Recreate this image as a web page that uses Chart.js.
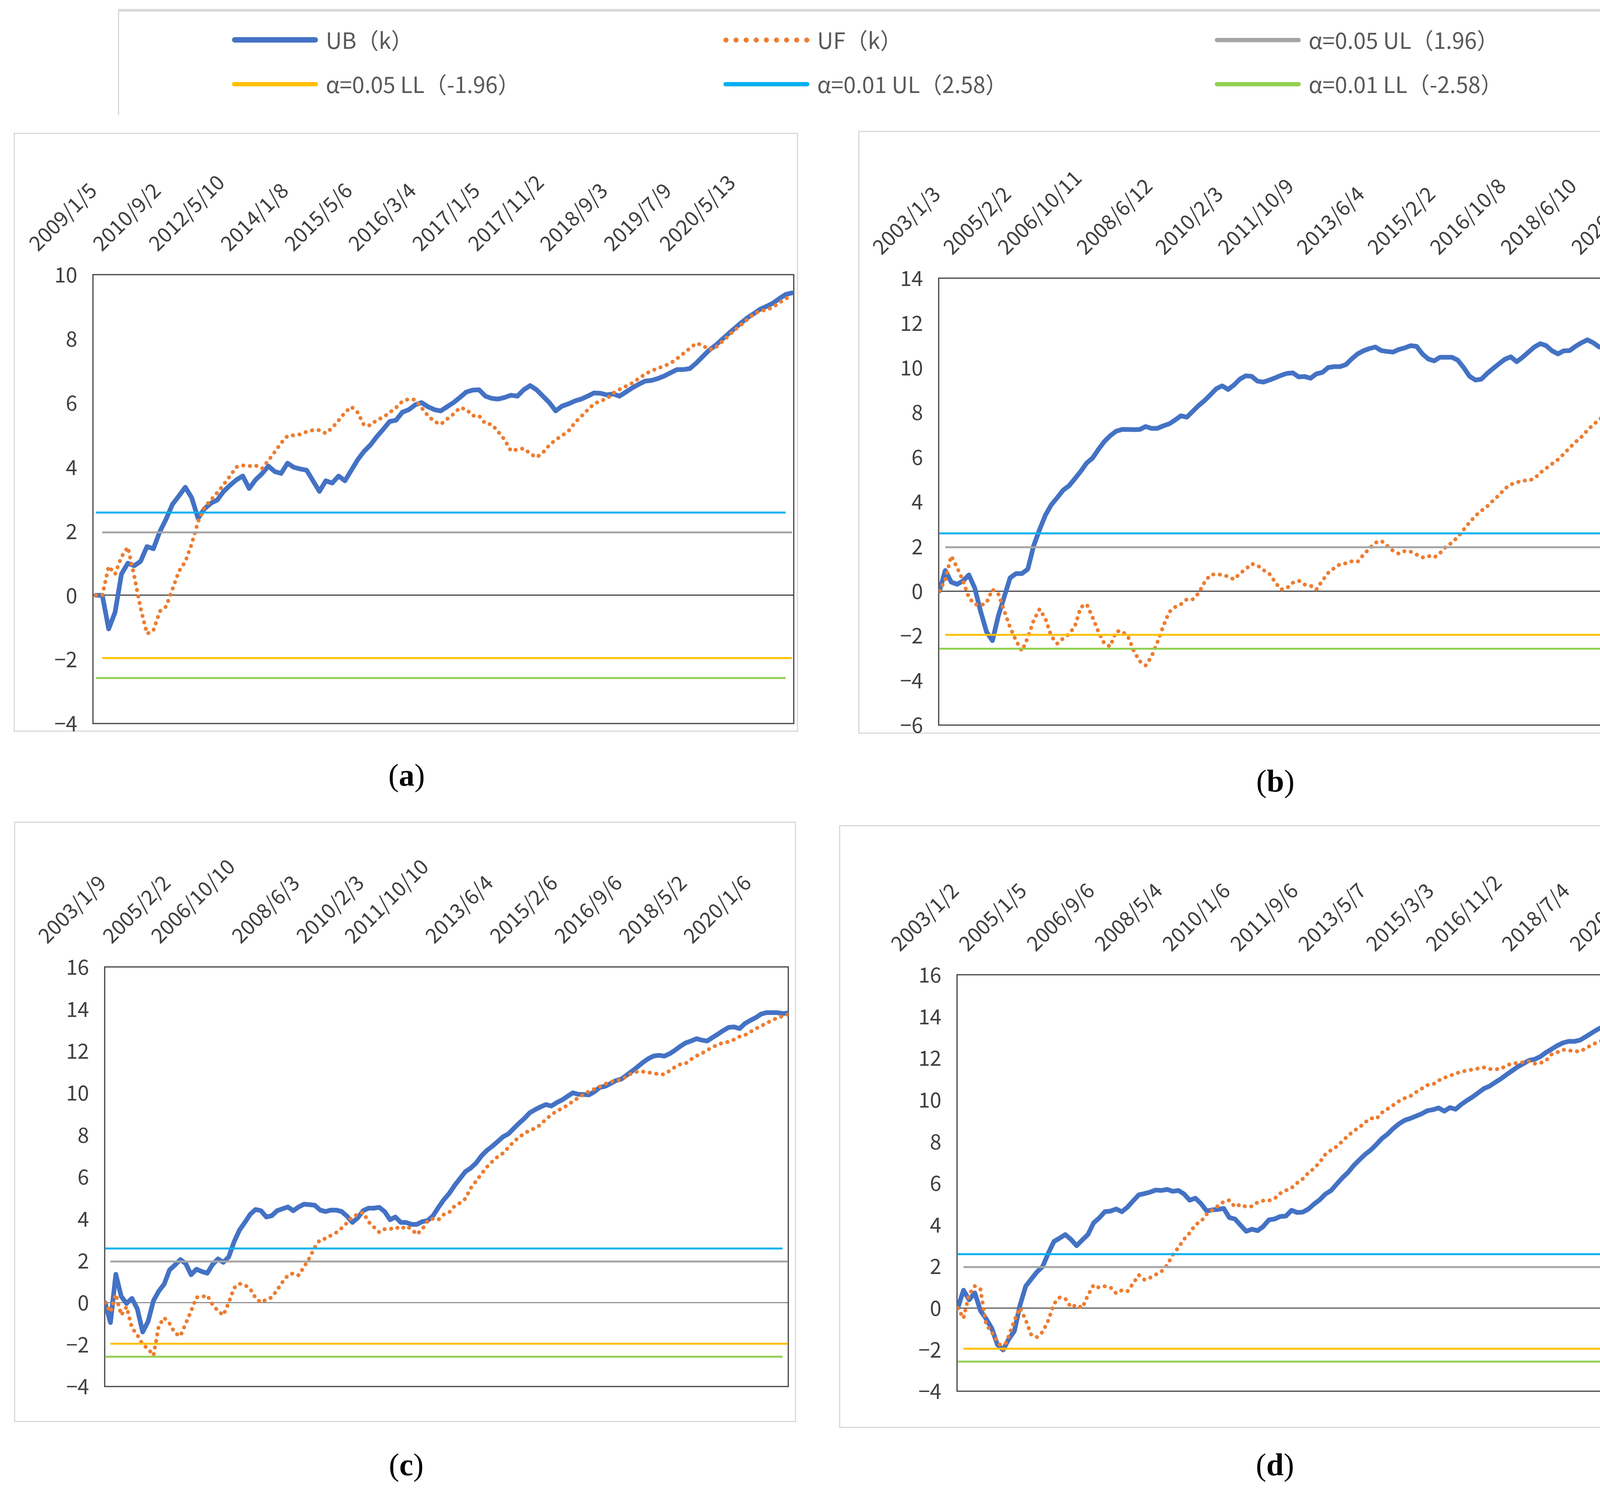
<!DOCTYPE html>
<html><head><meta charset="utf-8">
<script src="https://cdn.jsdelivr.net/npm/chart.js@4.4.1/dist/chart.umd.min.js"></script>
<style>
html,body{margin:0;padding:0;background:#fff;}
#page{position:relative;width:4433px;height:3819px;overflow:hidden;background:#fff;}
.box{position:absolute;border:3px solid #d9d9d9;box-sizing:border-box;}
.cv{position:absolute;}
.cap{position:absolute;width:300px;text-align:center;font-family:"Liberation Serif","DejaVu Serif",serif;font-size:80px;line-height:80px;color:#000;white-space:nowrap;}
.lg-line{position:absolute;height:12px;border-radius:6px;}
.lg-dot{position:absolute;height:0;border-top:13px dotted #ED7D31;}
.lg-text{position:absolute;font-family:"Noto Sans CJK JP";font-size:57px;line-height:80px;height:80px;color:#595959;white-space:nowrap;}
#legendBox{position:absolute;left:302px;top:23px;width:3826px;height:272px;border-top:7px solid #d9d9d9;border-left:3px solid #d9d9d9;border-right:3px solid #d9d9d9;box-sizing:border-box;}
</style></head>
<body><div id="page"><div id="legendBox"></div></div>
<script>
// ---------------- DATA ----------------
const seriesNames = ['UB（k）', 'UF（k）'];
const thresholdNames = ['α=0.05 UL（1.96）', 'α=0.05 LL（-1.96）', 'α=0.01 UL（2.58）', 'α=0.01 LL（-2.58）'];
const thresholdValues = [1.96, -1.96, 2.58, -2.58];

const ticksA = ['2009/1/5','2010/9/2','2012/5/10','2014/1/8','2015/5/6','2016/3/4','2017/1/5','2017/11/2','2018/9/3','2019/7/9','2020/5/13'];
const ubA = [0,0,-1.05,-0.53,0.66,1.0,0.92,1.06,1.52,1.45,
 1.98,2.38,2.84,3.1,3.37,3.04,2.4,2.7,2.87,2.97,
 3.24,3.43,3.6,3.72,3.33,3.6,3.79,4.03,3.86,3.8,
 4.12,3.99,3.94,3.9,3.57,3.24,3.57,3.5,3.72,3.57,
 3.9,4.23,4.49,4.69,4.95,5.18,5.42,5.46,5.71,5.79,
 5.94,6.01,5.88,5.79,5.75,5.88,6.01,6.17,6.34,6.4,
 6.41,6.21,6.14,6.12,6.17,6.24,6.21,6.41,6.54,6.41,
 6.21,6.01,5.75,5.9,5.97,6.06,6.12,6.21,6.31,6.3,
 6.25,6.28,6.21,6.34,6.47,6.58,6.68,6.7,6.76,6.84,
 6.94,7.04,7.04,7.07,7.24,7.44,7.64,7.79,7.97,8.15,
 8.32,8.49,8.65,8.78,8.92,9.01,9.11,9.25,9.38,9.43];
const ufA = [0,0,0.9,0.66,1.2,1.5,0.6,-0.4,-1.2,-1.1,
 -0.5,-0.35,0.2,0.75,1.05,1.6,2.3,2.75,2.97,3.2,
 3.45,3.72,4.0,4.05,4.03,4.05,3.95,4.2,4.47,4.75,
 4.97,4.99,5.02,5.1,5.15,5.15,5.05,5.22,5.45,5.7,
 5.88,5.7,5.3,5.3,5.47,5.55,5.7,5.85,6.05,6.12,
 6.1,5.85,5.6,5.42,5.33,5.5,5.65,5.85,5.8,5.6,
 5.6,5.35,5.33,5.1,4.85,4.5,4.55,4.58,4.42,4.3,
 4.45,4.68,4.85,4.98,5.12,5.38,5.58,5.78,5.97,6.06,
 6.13,6.3,6.42,6.52,6.62,6.76,6.9,7.0,7.08,7.15,
 7.24,7.38,7.54,7.7,7.86,7.8,7.66,7.72,7.9,8.08,
 8.27,8.43,8.6,8.77,8.87,8.9,8.98,9.12,9.25,9.35];

const ticksB = ['2003/1/3','2005/2/2','2006/10/11','2008/6/12','2010/2/3','2011/10/9','2013/6/4','2015/2/2','2016/10/8','2018/6/10','2020/2/20'];
const ubB = [0,0.92,0.4,0.3,0.45,0.72,0.13,-0.92,-1.83,-2.22,
 -1.11,-0.26,0.59,0.78,0.78,0.98,2.03,2.75,3.4,3.86,
 4.18,4.51,4.71,5.03,5.36,5.73,5.95,6.34,6.69,6.95,
 7.15,7.23,7.23,7.22,7.23,7.36,7.28,7.28,7.39,7.48,
 7.65,7.84,7.78,8.04,8.3,8.52,8.78,9.05,9.18,9.02,
 9.22,9.48,9.63,9.61,9.39,9.35,9.44,9.54,9.65,9.74,
 9.76,9.58,9.6,9.52,9.72,9.78,10.0,10.04,10.04,10.13,
 10.39,10.61,10.75,10.85,10.92,10.76,10.72,10.69,10.81,10.88,
 10.98,10.95,10.61,10.38,10.3,10.46,10.46,10.46,10.33,10.0,
 9.61,9.44,9.48,9.74,9.96,10.17,10.37,10.48,10.26,10.46,
 10.69,10.92,11.07,10.98,10.75,10.61,10.75,10.76,10.95,11.11,
 11.24,11.11,10.92,10.92,11.07,11.2,11.31,11.44,11.35,11.18,
 11.07,11.14,11.11,11.2,11.08,10.92,10.78,10.81];
const ufB = [0,0.5,1.57,1.05,0.46,-0.3,-0.59,-0.65,-0.52,0.07,
 -0.13,-0.89,-1.63,-2.22,-2.68,-2.09,-1.31,-0.81,-1.24,-2.03,
 -2.35,-2.12,-1.93,-1.57,-0.72,-0.59,-1.18,-1.83,-2.35,-2.48,
 -1.8,-1.8,-2.03,-2.68,-3.14,-3.33,-2.94,-2.29,-1.57,-0.94,
 -0.72,-0.59,-0.37,-0.37,-0.1,0.39,0.72,0.76,0.72,0.65,
 0.52,0.78,0.98,1.22,1.14,0.94,0.78,0.39,0.07,0.13,
 0.37,0.46,0.29,0.24,0.07,0.46,0.81,1.02,1.2,1.24,
 1.33,1.31,1.63,1.9,2.16,2.25,2.03,1.8,1.67,1.79,
 1.76,1.63,1.5,1.57,1.5,1.7,1.99,2.16,2.42,2.75,
 3.07,3.37,3.59,3.79,4.05,4.29,4.58,4.77,4.86,4.94,
 4.94,5.03,5.29,5.49,5.69,5.88,6.14,6.41,6.67,6.9,
 7.19,7.45,7.65,7.91,8.13,8.37,8.6,8.82,9.05,9.28,
 9.5,9.7,9.9,10.09,10.26,10.46,10.61,10.78];

const ticksC = ['2003/1/9','2005/2/2','2006/10/10','2008/6/3','2010/2/3','2011/10/10','2013/6/4','2015/2/6','2016/9/6','2018/5/2','2020/1/6'];
const ubC = [0,-0.95,1.35,0.3,-0.04,0.2,-0.3,-1.4,-0.9,0.09,
 0.55,0.88,1.56,1.79,2.05,1.86,1.33,1.59,1.48,1.4,
 1.82,2.08,1.92,2.18,2.9,3.46,3.82,4.21,4.44,4.38,
 4.08,4.14,4.38,4.47,4.56,4.38,4.56,4.69,4.67,4.64,
 4.41,4.34,4.41,4.41,4.34,4.12,3.82,4.04,4.38,4.5,
 4.5,4.54,4.34,3.95,4.08,3.82,3.82,3.73,3.73,3.86,
 3.91,4.14,4.54,4.9,5.2,5.58,5.91,6.24,6.41,6.65,
 6.99,7.25,7.45,7.67,7.9,8.04,8.3,8.55,8.78,9.05,
 9.2,9.33,9.44,9.37,9.53,9.66,9.83,10.0,9.93,9.92,
 9.9,10.05,10.26,10.31,10.44,10.58,10.65,10.84,11.03,11.23,
 11.44,11.62,11.75,11.79,11.75,11.86,12.03,12.22,12.38,12.47,
 12.58,12.51,12.47,12.64,12.8,12.97,13.12,13.14,13.06,13.3,
 13.45,13.58,13.75,13.82,13.82,13.82,13.78,13.8];
const ufC = [0,-0.45,0.4,-0.6,-0.2,-1.2,-1.55,-2.0,-2.2,-2.52,
 -1.1,-0.72,-1.0,-1.45,-1.6,-1.0,-0.4,0.25,0.27,0.35,
 -0.1,-0.4,-0.6,0.0,0.7,0.9,0.84,0.65,0.22,0.0,
 0.15,0.25,0.6,0.98,1.3,1.4,1.3,1.7,2.12,2.63,
 3.0,3.05,3.2,3.34,3.55,3.8,4.1,4.2,4.3,3.85,
 3.6,3.35,3.5,3.5,3.6,3.5,3.65,3.5,3.25,3.5,
 3.9,4.0,3.95,4.2,4.3,4.6,4.75,4.95,5.45,5.79,
 6.13,6.46,6.72,6.95,7.12,7.39,7.67,7.88,8.07,8.21,
 8.31,8.48,8.75,8.94,9.14,9.25,9.41,9.59,9.76,9.92,
 10.07,10.18,10.29,10.42,10.52,10.58,10.63,10.78,10.94,11.01,
 11.01,10.97,10.94,10.88,10.88,11.05,11.23,11.36,11.4,11.6,
 11.76,11.88,12.03,12.18,12.3,12.39,12.43,12.54,12.68,12.75,
 12.9,13.06,13.18,13.32,13.45,13.57,13.65,13.73];

const ticksD = ['2003/1/2','2005/1/5','2006/9/6','2008/5/4','2010/1/6','2011/9/6','2013/5/7','2015/3/3','2016/11/2','2018/7/4','2020/5/7'];
const ubD = [0,0.85,0.39,0.72,-0.13,-0.52,-0.98,-1.76,-2.02,-1.5,
 -1.11,0.13,1.04,1.39,1.73,1.99,2.63,3.19,3.35,3.52,
 3.29,2.99,3.26,3.52,4.08,4.32,4.62,4.65,4.75,4.62,
 4.84,5.14,5.43,5.49,5.56,5.66,5.64,5.69,5.6,5.64,
 5.47,5.17,5.27,5.01,4.65,4.71,4.73,4.78,4.34,4.27,
 3.97,3.68,3.78,3.71,3.91,4.23,4.27,4.39,4.41,4.69,
 4.58,4.6,4.75,4.99,5.2,5.47,5.64,5.95,6.25,6.51,
 6.84,7.11,7.37,7.58,7.85,8.14,8.35,8.62,8.84,9.01,
 9.1,9.21,9.32,9.47,9.52,9.6,9.45,9.62,9.54,9.77,
 9.96,10.13,10.33,10.53,10.65,10.83,11.0,11.2,11.39,11.58,
 11.73,11.89,11.94,12.07,12.27,12.43,12.6,12.73,12.8,12.8,
 12.86,13.02,13.19,13.36,13.49,13.46,13.55,13.63,13.79,13.92,
 14.08,14.23,14.28,14.31,14.35,14.36];
const ufD = [0,-0.5,0.65,1.05,0.9,-0.8,-1.17,-1.6,-2.0,-1.35,
 -0.6,0.0,-0.58,-1.3,-1.4,-1.15,-0.6,0.2,0.5,0.45,
 0.03,0.15,0.0,0.6,1.1,0.97,1.04,0.98,0.7,0.85,
 0.8,1.18,1.58,1.35,1.45,1.6,1.75,2.05,2.55,2.9,
 3.3,3.6,4.0,4.15,4.5,4.7,4.9,5.1,5.17,4.85,
 4.97,4.85,4.88,5.07,5.15,5.15,5.25,5.5,5.64,5.76,
 6.0,6.2,6.5,6.7,7.0,7.38,7.58,7.75,8.01,8.27,
 8.5,8.67,8.91,9.11,9.08,9.38,9.56,9.74,9.93,10.07,
 10.17,10.36,10.53,10.7,10.73,10.92,11.05,11.15,11.25,11.35,
 11.39,11.45,11.5,11.55,11.47,11.46,11.48,11.64,11.74,11.76,
 11.8,11.85,11.73,11.76,11.88,12.18,12.28,12.4,12.37,12.32,
 12.32,12.46,12.62,12.75,12.85,12.89,13.03,13.23,13.41,13.59,
 13.74,13.85,14.0,14.1,14.21,14.28];

// ---------------- LAYOUT / STYLE ----------------
const COLORS = {ub:'#4472C4', uf:'#ED7D31', th:['#A5A5A5','#FFC000','#00B0F0','#92D050']};
const FONT = '"Noto Sans CJK JP", "Noto Sans", sans-serif';
const panels = [
  {id:'a', ub:ubA, uf:ufA, ticks:ticksA, step:10, yMin:-4, yMax:10, box:[35,340,2043,1873], plot:[238,703,2032,1852], xPad:[-0.46,0.28], zero:'#262626', cap:[1041,1990]},
  {id:'b', ub:ubB, uf:ufB, ticks:ticksB, step:12, yMin:-6, yMax:14, box:[2197,335,4342,1878], plot:[2403,712,4331,1856], xPad:[-0.13,0.73], zero:'#262626', cap:[3265,2005]},
  {id:'c', ub:ubC, uf:ufC, ticks:ticksC, step:12, yMin:-4, yMax:16, box:[36,2103,2038,3640], plot:[268,2475,2018,3549], xPad:[-0.07,0.07], zero:'#808080', cap:[1040,3755]},
  {id:'d', ub:ubD, uf:ufD, ticks:ticksD, step:12, yMin:-4, yMax:16, box:[2148,2112,4389,3655], plot:[2450,2495,4299,3561], xPad:[-0.14,2.56], zero:'#404040', cap:[3264,3755]}
];
const YW = 160;
const page = document.getElementById('page');

// legend (HTML)
const legendItems = [
  {name:seriesNames[0], color:COLORS.ub, dotted:false, x:594, y:102, h:14},
  {name:seriesNames[1], color:COLORS.uf, dotted:true, x:1852, y:102},
  {name:thresholdNames[0], color:COLORS.th[0], dotted:false, x:3110, y:102, h:11},
  {name:thresholdNames[1], color:COLORS.th[1], dotted:false, x:594, y:215, h:11},
  {name:thresholdNames[2], color:COLORS.th[2], dotted:false, x:1852, y:215, h:11},
  {name:thresholdNames[3], color:COLORS.th[3], dotted:false, x:3110, y:215, h:11}
];
legendItems.forEach(it => {
  const s = document.createElement('div');
  if (it.dotted) {
    s.className = 'lg-dot';
    s.style.left = it.x + 'px'; s.style.top = (it.y - 6) + 'px'; s.style.width = '220px';
  } else {
    s.className = 'lg-line';
    s.style.left = it.x + 'px'; s.style.top = (it.y - it.h/2) + 'px'; s.style.width = '220px';
    s.style.height = it.h + 'px'; s.style.background = it.color; s.style.borderRadius = (it.h/2) + 'px';
  }
  page.appendChild(s);
  const t = document.createElement('div');
  t.className = 'lg-text';
  t.style.left = (it.x + 240) + 'px'; t.style.top = (it.y - 42) + 'px';
  t.textContent = it.name;
  page.appendChild(t);
});

// plugins
const framePlugin = {
  id: 'frame',
  beforeDatasetsDraw(chart) {
    const a = chart.chartArea, ctx = chart.ctx;
    ctx.save();
    ctx.strokeStyle = '#404040';
    ctx.lineWidth = 3;
    ctx.strokeRect(a.left, a.top, a.right - a.left, a.bottom - a.top);
    ctx.restore();
  }
};
const xLabelPlugin = {
  id: 'xlabels',
  afterDraw(chart, args, opts) {
    const ctx = chart.ctx, xs = chart.scales.x, a = chart.chartArea;
    ctx.save();
    ctx.font = '53px ' + FONT;
    ctx.fillStyle = '#404040';
    ctx.textAlign = 'left';
    ctx.textBaseline = 'alphabetic';
    const c = Math.SQRT1_2;
    opts.labels.forEach((lab, i) => {
      const px = xs.getPixelForValue(i * opts.step) + 6;
      const L = ctx.measureText(lab).width;
      ctx.save();
      ctx.translate(px - L * c, a.top - 57);
      ctx.rotate(-Math.PI / 4);
      ctx.fillText(lab, 0, 0);
      ctx.restore();
    });
    ctx.restore();
  }
};

panels.forEach(p => {
  const [L, T, R, B] = p.box;
  const box = document.createElement('div');
  box.className = 'box';
  box.style.left = L + 'px'; box.style.top = T + 'px';
  box.style.width = (R - L) + 'px'; box.style.height = (B - T) + 'px';
  page.appendChild(box);

  const cw = R - L + 40, ch = B - T + 80;
  const cv = document.createElement('canvas');
  cv.className = 'cv';
  cv.width = cw; cv.height = ch;
  cv.style.left = L + 'px'; cv.style.top = T + 'px';
  cv.style.width = cw + 'px'; cv.style.height = ch + 'px';
  page.appendChild(cv);

  const [pl, pt, pr, pb] = p.plot;
  const N = p.ub.length;
  const toXY = arr => arr.map((v, i) => ({x: i, y: v}));
  const thSpan = [[1, N - 1], [1, N - 1], [0, N - 2], [0, N - 2]];
  const datasets = [
    {label: seriesNames[0], data: toXY(p.ub), borderColor: COLORS.ub, borderWidth: 12, borderJoinStyle: 'round', borderCapStyle: 'round', order: 6},
    {label: seriesNames[1], data: toXY(p.uf), borderColor: COLORS.uf, borderWidth: 10, borderDash: [0.5, 16.5], borderCapStyle: 'round', borderJoinStyle: 'round', order: 5}
  ];
  thresholdValues.forEach((v, k) => {
    datasets.push({label: thresholdNames[k], data: [{x: thSpan[k][0], y: v}, {x: thSpan[k][1], y: v}],
      borderColor: COLORS.th[k], borderWidth: 5, borderCapStyle: 'butt', order: 4 - k});
  });

  new Chart(cv, {
    type: 'line',
    data: {datasets},
    options: {
      responsive: false, animation: false, devicePixelRatio: 1,
      events: [],
      elements: {point: {radius: 0, hoverRadius: 0}, line: {tension: 0, fill: false}},
      layout: {padding: {left: pl - L - YW, top: pt - T, right: (L + cw) - pr, bottom: (T + ch) - pb}},
      plugins: {legend: {display: false}, tooltip: {enabled: false}, xlabels: {labels: p.ticks, step: p.step}},
      scales: {
        x: {type: 'linear', display: false, min: p.xPad[0], max: N - 1 + p.xPad[1]},
        y: {
          type: 'linear', min: p.yMin, max: p.yMax,
          afterFit: s => { s.width = YW; },
          border: {display: false},
          grid: {drawTicks: false,
            color: ctx => (ctx.tick && ctx.tick.value === 0) ? p.zero : 'rgba(0,0,0,0)',
            lineWidth: ctx => (ctx.tick && ctx.tick.value === 0) ? 2.5 : 1},
          ticks: {stepSize: 2, autoSkip: false, maxTicksLimit: 30, padding: 40, color: '#404040',
            font: {family: FONT, size: 53},
            callback: v => v < 0 ? '\u2212' + Math.abs(v) : String(v)}
        }
      }
    },
    plugins: [framePlugin, xLabelPlugin]
  });

  const cap = document.createElement('div');
  cap.className = 'cap';
  cap.style.left = (p.cap[0] - 150) + 'px';
  cap.style.top = (p.cap[1] - 46) + 'px';
  cap.innerHTML = '(<b>' + p.id + '</b>)';
  page.appendChild(cap);
});
</script>
</body></html>
